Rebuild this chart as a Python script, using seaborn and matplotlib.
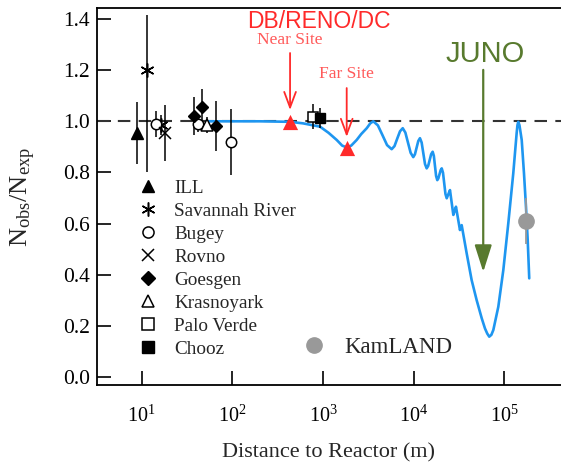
import numpy as np
import pandas as pd
import matplotlib
matplotlib.use("Agg")
import matplotlib.pyplot as plt
from matplotlib.lines import Line2D
import seaborn as sns

# ---------------- data ----------------
curve_L = [52, 201, 432, 600, 925, 1148, 1413, 1622, 1820, 2042, 2344, 2630,
           3027, 3311, 3573, 4018, 4519, 5070, 5702, 6124, 6561, 7047, 7551,
           8072, 8630, 9226, 9863, 10292, 10740, 11207, 11695, 12204, 12735,
           13289, 13868, 14405, 14962, 15541, 16144, 16634, 17120, 17620,
           18155, 18664, 19210, 19770, 20324, 20989, 21652, 22336, 23067,
           24044, 25061, 26152, 27290, 28216, 29174, 30690, 32285, 32999,
           33729, 38282, 43451, 49317, 56105, 60954, 64565, 67920, 71614,
           75336, 85507, 97051, 110154, 125026, 136144, 138995, 141906,
           146218, 154882, 164059, 172584, 180302, 187499]
curve_P = [1.0, 1.0, 0.998, 0.992, 0.979, 0.955, 0.927, 0.905, 0.898, 0.905,
           0.927, 0.950, 0.973, 0.992, 1.0, 0.984, 0.9455, 0.907, 0.891,
           0.903, 0.932, 0.961, 0.973, 0.956, 0.9165, 0.877, 0.860, 0.871,
           0.897, 0.923, 0.934, 0.917, 0.875, 0.833, 0.816, 0.8255, 0.8485,
           0.8715, 0.881, 0.865, 0.8255, 0.786, 0.770, 0.777, 0.793, 0.809,
           0.816, 0.799, 0.7575, 0.716, 0.699, 0.715, 0.731, 0.6825, 0.634,
           0.650, 0.666, 0.6205, 0.575, 0.5845, 0.594, 0.484, 0.379, 0.301,
           0.230, 0.190, 0.170, 0.158, 0.165, 0.184, 0.275, 0.418, 0.601,
           0.797, 0.953, 0.985, 0.998, 0.985, 0.927, 0.797, 0.666, 0.536,
           0.386]

ill_L, ill_R, ill_elo, ill_ehi = [8.9], [0.955], [0.12], [0.12]
sr_L, sr_R, sr_elo, sr_ehi = [11.5, 16.2], [1.20, 0.985], [0.40, 0.04], [0.215, 0.04]
bug_L, bug_R, bug_elo, bug_ehi = [14.3, 42.0, 95.7], [0.99, 0.99, 0.92], [0.05, 0.03, 0.13], [0.05, 0.03, 0.13]
rov_L, rov_R, rov_elo, rov_ehi = [18.1], [0.955], [0.11], [0.11]
goe_L, goe_R, goe_elo, goe_ehi = [37.8, 45.8, 65.5], [1.02, 1.055, 0.98], [0.075, 0.073, 0.098], [0.075, 0.073, 0.098]
kra_L, kra_R, kra_elo, kra_ehi = [52.8], [0.985], [0.03], [0.03]
pv_L, pv_R, pv_elo, pv_ehi = [776], [1.018], [0.05], [0.05]
ch_L, ch_R, ch_elo, ch_ehi = [918], [1.012], [0.04], [0.04]
kam_L, kam_R, kam_e = [173000], [0.611], [0.09]
sites_L, sites_R = [432, 1820], [0.998, 0.894]

x_ticks = [10, 100, 1000, 10000, 100000]
y_ticks = [0.0, 0.2, 0.4, 0.6, 0.8, 1.0, 1.2, 1.4]

legend_labels = ["ILL", "Savannah River", "Bugey", "Rovno", "Goesgen",
                 "Krasnoyark", "Palo Verde", "Chooz"]

# ---------------- style ----------------
sns.set_theme(style="white")
plt.rcParams["font.family"] = ["Liberation Serif", "DejaVu Serif"]
plt.rcParams["mathtext.fontset"] = "custom"
plt.rcParams["mathtext.rm"] = "Liberation Serif"
plt.rcParams["mathtext.it"] = "Liberation Serif:italic"
plt.rcParams["mathtext.bf"] = "Liberation Serif:bold"

RED = "#ff2a2a"
LRED = "#ff5a5a"
GREEN = "#587a2e"
BLUE = "#1e96f0"
ASTER = (6, 2, 0)

fig = plt.figure(figsize=(5.61, 4.62), dpi=100)
ax = fig.add_axes([97 / 561, 77 / 462, 1 - 97 / 561, 377 / 462])
fig.patch.set_facecolor("white")

# reference line
ax.axhline(1.0, color="#333333", lw=1.5, ls=(0, (6, 4)), zorder=1)

# oscillation curve
df = pd.DataFrame({"L": curve_L, "P": curve_P})
sns.lineplot(data=df, x="L", y="P", sort=False, estimator=None, color=BLUE,
             lw=1.9, ax=ax, zorder=2)

ebkw = dict(ecolor="black", elinewidth=1.1, capsize=0, ls="none", zorder=4)
ax.errorbar(ill_L, ill_R, yerr=[ill_elo, ill_ehi], fmt="^", ms=8, mfc="black", mec="black", **ebkw)
ax.errorbar(sr_L, sr_R, yerr=[sr_elo, sr_ehi], marker=ASTER, ms=10, mfc="black", mec="black", mew=1.1, **ebkw)
ax.errorbar(bug_L, bug_R, yerr=[bug_elo, bug_ehi], fmt="o", ms=7.5, mfc="white", mec="black", mew=1.1, **ebkw)
ax.errorbar(rov_L, rov_R, yerr=[rov_elo, rov_ehi], fmt="x", ms=8, mfc="black", mec="black", mew=1.1, **ebkw)
ax.errorbar(goe_L, goe_R, yerr=[goe_elo, goe_ehi], fmt="D", ms=6.5, mfc="black", mec="black", **ebkw)
ax.errorbar(kra_L, kra_R, yerr=[kra_elo, kra_ehi], fmt="^", ms=8, mfc="white", mec="black", mew=1.1, **ebkw)
ax.errorbar(pv_L, pv_R, yerr=[pv_elo, pv_ehi], fmt="s", ms=7, mfc="white", mec="black", mew=1.1, **ebkw)
ax.errorbar(ch_L, ch_R, yerr=[ch_elo, ch_ehi], fmt="s", ms=7, mfc="black", mec="black", **ebkw)
ax.errorbar(kam_L, kam_R, yerr=[kam_e, kam_e], fmt="o", ms=11, mfc="#999999", mec="#999999",
            ecolor="#999999", elinewidth=1.3, capsize=0, ls="none", zorder=5)
sns.scatterplot(x=sites_L, y=sites_R, marker="^", s=120, color=RED, edgecolor=RED,
                linewidth=0, ax=ax, zorder=5, legend=False)

# axes
ax.set_xscale("log")
ax.set_xlim(3.21, 4.2e5)
ax.set_ylim(-0.031, 1.443)
ax.set_xticks(x_ticks)
ax.minorticks_off()
ax.set_yticks(y_ticks)
ax.set_yticklabels([f"{v:.1f}" for v in y_ticks])
ax.tick_params(axis="both", direction="in", length=10, width=1.2, colors="black",
               left=True, bottom=True, top=False, right=False)
ax.tick_params(axis="x", pad=15, labelsize=14.5)
ax.tick_params(axis="y", pad=5, labelsize=15.5)
for s in ["left", "bottom", "top"]:
    ax.spines[s].set_color("black")
    ax.spines[s].set_linewidth(1.3)
ax.spines["right"].set_visible(False)

ax.set_xlabel("Distance to Reactor (m)", fontsize=16)
ax.xaxis.set_label_coords(0.5, -0.155)
ax.set_ylabel(r"N$_{\rm obs}$/N$_{\rm exp}$", fontsize=19)
ax.yaxis.set_label_coords(-0.127, 0.5)

# legends
handles = [
    Line2D([], [], ls="none", marker="^", ms=9, mfc="black", mec="black"),
    Line2D([], [], ls="none", marker=ASTER, ms=10, mec="black", mew=1.1),
    Line2D([], [], ls="none", marker="o", ms=8, mfc="white", mec="black", mew=1.1),
    Line2D([], [], ls="none", marker="x", ms=8, mec="black", mew=1.1),
    Line2D([], [], ls="none", marker="D", ms=7, mfc="black", mec="black"),
    Line2D([], [], ls="none", marker="^", ms=9, mfc="white", mec="black", mew=1.1),
    Line2D([], [], ls="none", marker="s", ms=8, mfc="white", mec="black", mew=1.1),
    Line2D([], [], ls="none", marker="s", ms=8, mfc="black", mec="black"),
]
leg1 = ax.legend(handles, legend_labels, loc="upper left", bbox_to_anchor=(0.0897, 0.545),
                 frameon=False, fontsize=13.8, handlelength=1.0, handletextpad=0.85,
                 labelspacing=0.29, borderpad=0, borderaxespad=0)
ax.add_artist(leg1)
kh = [Line2D([], [], ls="none", marker="o", ms=11, mfc="#999999", mec="#999999")]
ax.legend(kh, ["KamLAND"], loc="upper left", bbox_to_anchor=(0.442, 0.128), frameon=False,
          fontsize=16.5, handlelength=1.0, handletextpad=0.85, borderpad=0, borderaxespad=0)

# annotations
ax.text(902, 1.392, "DB/RENO/DC", color=RED, fontsize=16.5, ha="center", va="center",
        family=["Liberation Sans", "DejaVu Sans"])
ax.text(432, 1.318, "Near Site", color=LRED, fontsize=12.5, ha="center", va="center")
ax.text(1820, 1.185, "Far Site", color=LRED, fontsize=12.5, ha="center", va="center")
ax.text(61800, 1.263, "JUNO", color=GREEN, fontsize=21, ha="center", va="center",
        family=["Liberation Sans", "DejaVu Sans"])
ax.annotate("", xy=(432, 1.044), xytext=(432, 1.267),
            arrowprops=dict(arrowstyle="->,head_length=0.8,head_width=0.3", color=RED,
                            lw=1.3, mutation_scale=14, shrinkA=0, shrinkB=0))
ax.annotate("", xy=(1820, 0.939), xytext=(1820, 1.130),
            arrowprops=dict(arrowstyle="->,head_length=0.8,head_width=0.3", color=RED,
                            lw=1.3, mutation_scale=14, shrinkA=0, shrinkB=0))
ax.annotate("", xy=(58300, 0.411), xytext=(58300, 1.201),
            arrowprops=dict(arrowstyle="-|>,head_length=1.1,head_width=0.35", color=GREEN,
                            lw=1.6, mutation_scale=15, shrinkA=0, shrinkB=0))

fig.savefig("out.png", dpi=100, facecolor="white")
